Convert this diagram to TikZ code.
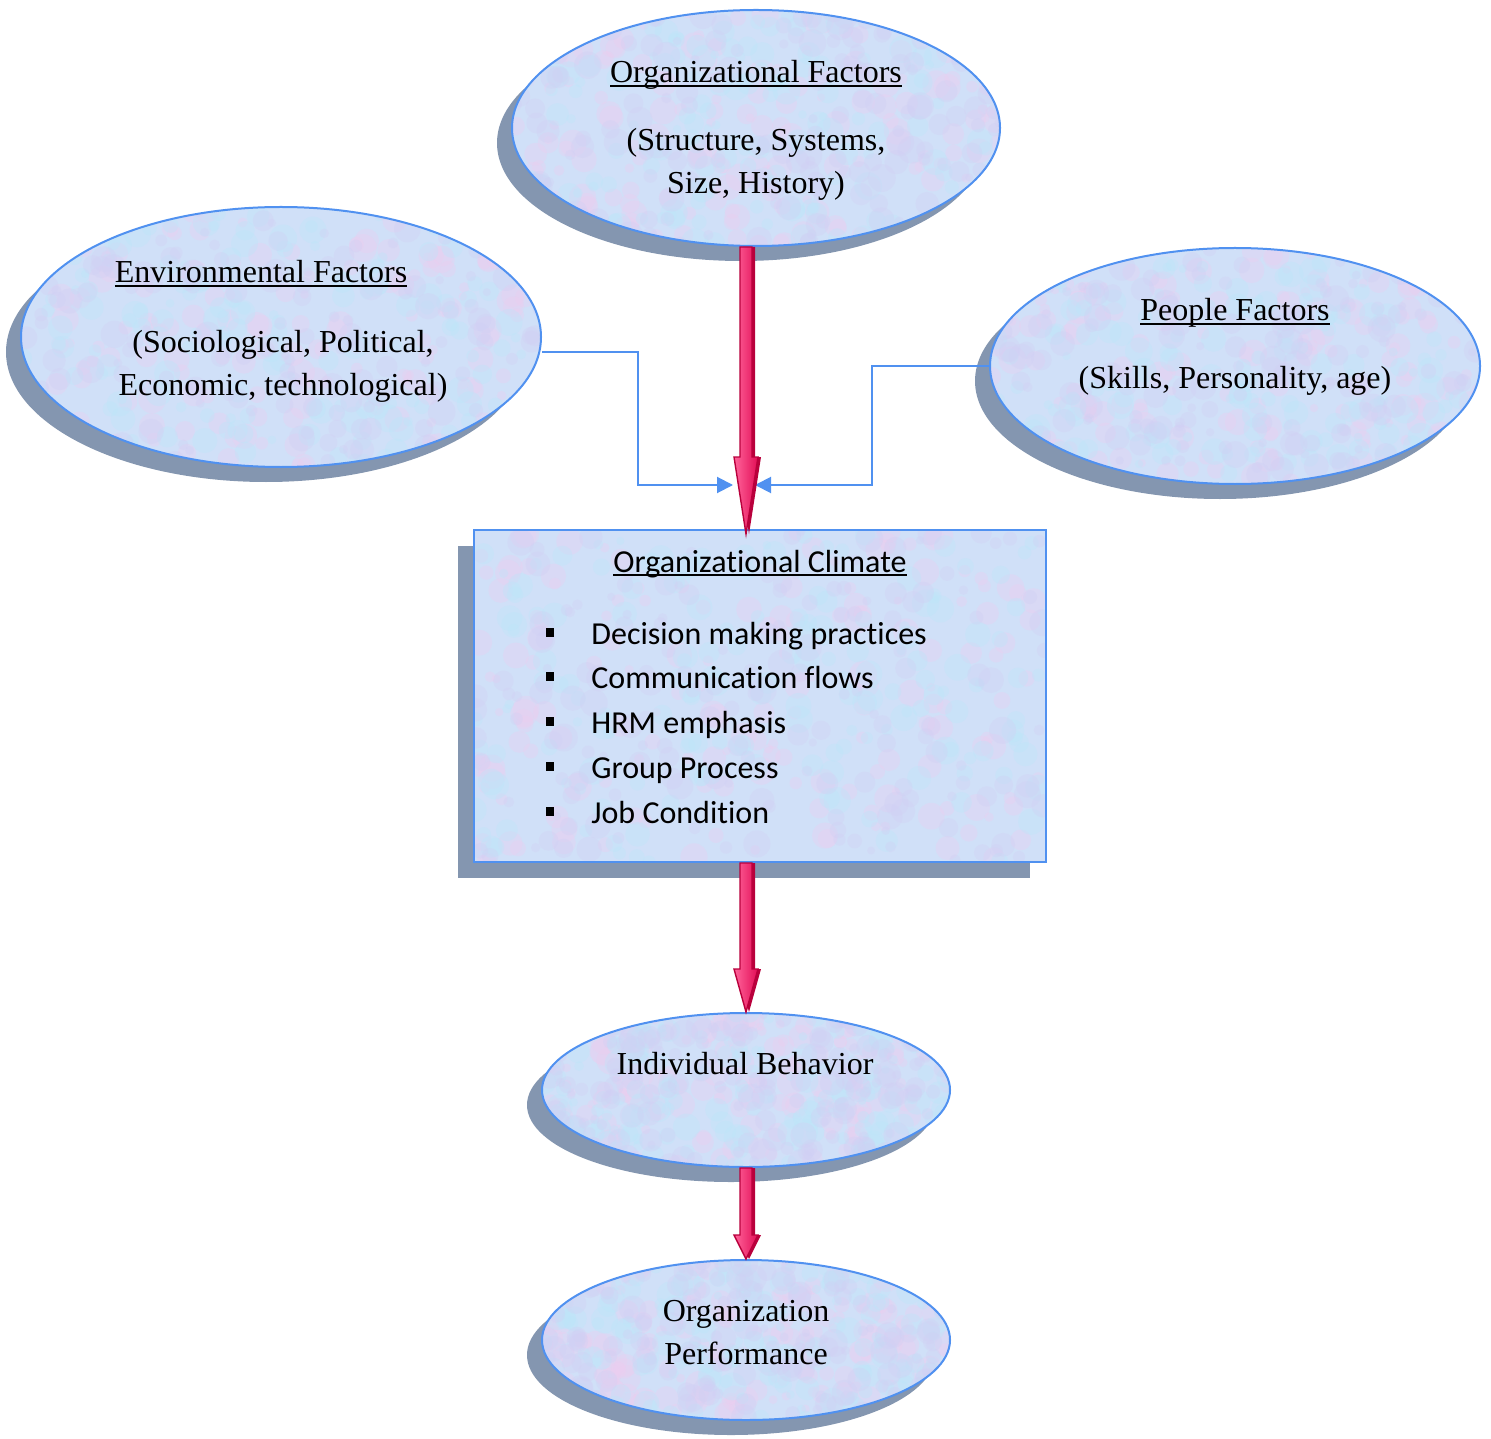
\documentclass[tikz,border=0pt]{standalone}
\usepackage{fontspec}
\setmainfont{Liberation Serif}
\newfontfamily\calib[Ligatures=NoCommon]{Carlito}
\usetikzlibrary{shapes.geometric,shadows,arrows.meta,calc}
\definecolor{bord}{RGB}{80,145,240}
\definecolor{shade}{RGB}{132,150,176}
\definecolor{fillc}{RGB}{208,224,248}
\definecolor{blobP}{RGB}{236,206,240}
\definecolor{blobC}{RGB}{188,230,250}
\definecolor{blobL}{RGB}{208,208,244}
\definecolor{pinkL}{RGB}{255,100,155}
\definecolor{pinkR}{RGB}{226,14,86}
\definecolor{pinkD}{RGB}{185,0,60}
\newcommand\ulin[1]{\setbox0\hbox{#1}\rlap{\rule[-2pt]{\wd0}{0.8pt}}\box0}
\newcommand\blockarrow[3]{%
  \path[fill=pinkD] let \p1=#1, \p2=#2 in
    (\x1-1.5pt,\y1) -- (\x1-1.5pt,\y2+#3) -- (\x1-4.5pt,\y2+#3) -- (\x2+1.5pt,\y2) -- (\x1+7.5pt,\y2+#3) -- (\x1+4.5pt,\y2+#3) -- (\x1+4.5pt,\y1) -- cycle;
  \path[draw=pinkD,line width=0.7pt,left color=pinkL,right color=pinkR] let \p1=#1, \p2=#2 in
    (\x1-3pt,\y1) -- (\x1-3pt,\y2+#3) -- (\x1-6pt,\y2+#3) -- (\x2,\y2) -- (\x1+6pt,\y2+#3) -- (\x1+3pt,\y2+#3) -- (\x1+3pt,\y1) -- cycle;}
\newcommand\mottle{%
  \pgfpointanchor{path picture bounding box}{south west}\pgfgetlastxy\msx\msy
  \pgfpointanchor{path picture bounding box}{north east}\pgfgetlastxy\mex\mey
  \foreach \mcol in {blobP,blobC,blobL}{
    \foreach \i in {1,...,170}{
      \pgfmathsetmacro\mpx{\msx+rnd*(\mex-\msx)}
      \pgfmathsetmacro\mpy{\msy+rnd*(\mey-\msy)}
      \pgfmathsetmacro\mr{2+rnd*5}
      \fill[\mcol, opacity=0.35] (\mpx pt,\mpy pt) circle[radius=\mr pt];
    }}}
\tikzset{
  ell/.style={ellipse, draw=bord, line width=1pt, fill=fillc, inner sep=0pt,
    path picture={\mottle},
    drop shadow={shadow xshift=-7.5pt, shadow yshift=-7.5pt, fill=shade, opacity=1}},
  boxs/.style={rectangle, draw=bord, line width=1pt, fill=fillc, inner sep=0pt,
    path picture={\mottle},
    drop shadow={shadow xshift=-8pt, shadow yshift=-8pt, fill=shade, opacity=1}},
  txt/.style={anchor=base, inner sep=0pt, font=\fontsize{16}{20}\selectfont},
  ctxt/.style={anchor=base west, inner sep=0pt, font=\calib\fontsize{16}{20}\selectfont},
  bul/.style={rectangle, fill=black, minimum width=4pt, minimum height=4.5pt, inner sep=0pt},
  conn/.style={draw=bord, line width=1pt, -{Triangle[length=8pt,width=8pt]}}
}
\begin{document}
\pgfmathsetseed{42}
\begin{tikzpicture}[x=0.5pt,y=-0.5pt]
\useasboundingbox (0,0) rectangle (1491,1438);
% shapes
\node[ell, minimum width=244pt, minimum height=118pt] (orgf) at (756,128) {};
\node[ell, minimum width=260pt, minimum height=130pt] (env) at (281,337) {};
\node[ell, minimum width=245pt, minimum height=118pt] (ppl) at (1235,366) {};
\node[boxs, minimum width=286pt, minimum height=166pt] (clim) at (760,696) {};
\node[ell, minimum width=204pt, minimum height=77pt] (ib) at (746,1090) {};
\node[ell, minimum width=204pt, minimum height=80pt] (op) at (746,1340) {};
% texts
\node[txt] (orgf1) at (756,83) {\ulin{Organizational Factors}};
\node[txt] (orgf2) at (756,151) {(Structure, Systems,};
\node[txt] (orgf3) at (756,194) {Size, History)};
\node[txt] (env1) at (261,283) {\ulin{Environmental Factors}};
\node[txt] (env2) at (283,353) {(Sociological, Political,};
\node[txt] (env3) at (283,395) {Economic, technological)};
\node[txt] (ppl1) at (1235,321) {\ulin{People Factors}};
\node[txt] (ppl2) at (1235,388) {(Skills, Personality, age)};
\node[txt, font=\calib\fontsize{16}{20}\selectfont] (clim1) at (760,572) {\ulin{Organizational Climate}};
\node[ctxt] (c1) at (591,644) {Decision making practices};
\node[ctxt] (c2) at (591,688) {Communication flows};
\node[ctxt] (c3) at (591,733) {HRM emphasis};
\node[ctxt] (c4) at (591,778) {Group Process};
\node[ctxt] (c5) at (591,823) {Job Condition};
\foreach \n/\yy in {b1/632,b2/676,b3/721,b4/766,b5/811}
  \node[bul] (\n) at (550,\yy) {};
\node[txt] (ib1) at (745,1074) {Individual Behavior};
\node[txt] (op1) at (746,1321) {Organization};
\node[txt] (op2) at (746,1364) {Performance};
% blue connectors
\coordinate (envbend) at (638,485);
\coordinate (envtip) at (733,485);
\coordinate (pplbend) at (872,485);
\coordinate (ppltip) at (755,485);
\draw[conn] ([yshift=-7.5pt]env.east) -| (envbend) -- (envtip);
\draw[conn] (ppl.west) -| (pplbend) -- (ppltip);
% block arrows
\blockarrow{(orgf.south -| ib.north)}{([yshift=-2.5pt]clim.north -| ib.north)}{38.5pt}
\blockarrow{(clim.south -| ib.north)}{(ib.north)}{21.5pt}
\blockarrow{(ib.south)}{(op.north)}{12pt}
\end{tikzpicture}
\end{document}
